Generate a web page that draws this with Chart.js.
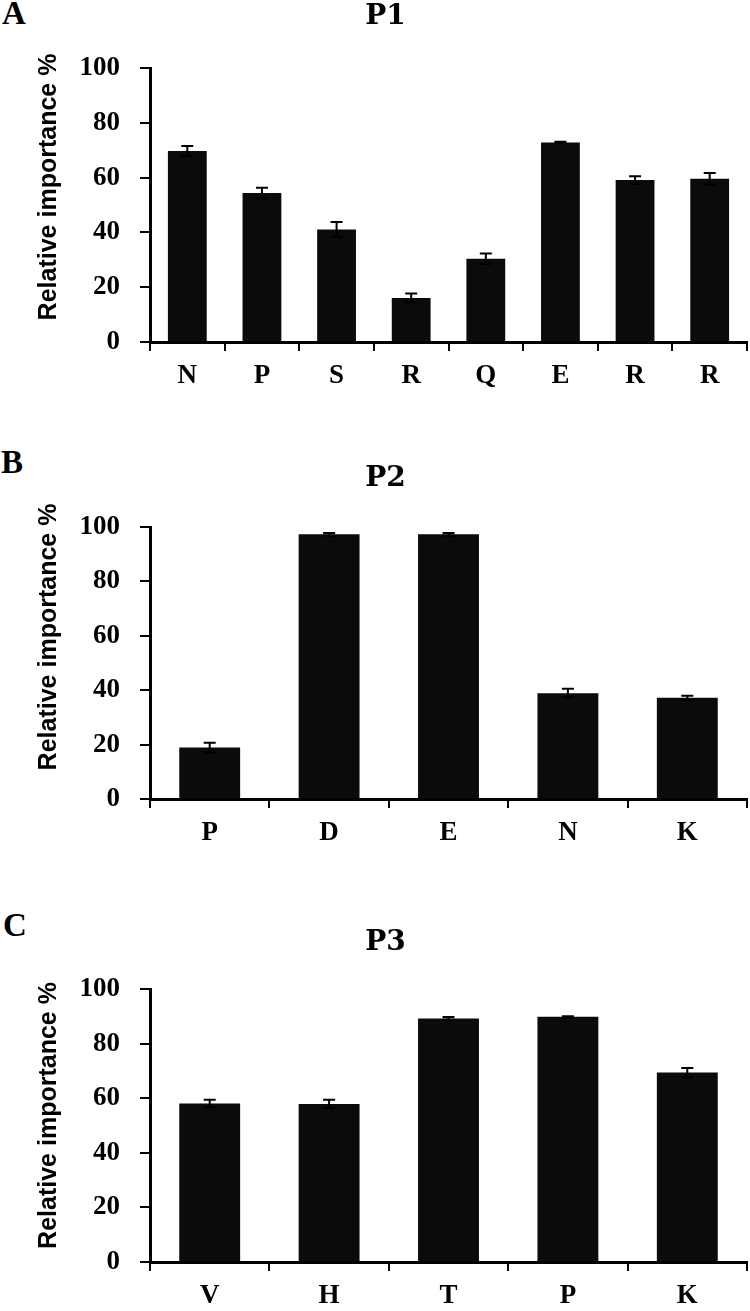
<!DOCTYPE html>
<html>
<head>
<meta charset="utf-8">
<script src="https://cdn.jsdelivr.net/npm/chart.js@4.4.1/dist/chart.umd.min.js"></script>
<style>
  html, body { margin: 0; padding: 0; background: #fff; width: 750px; height: 1311px; overflow: hidden; }
  .panel { position: absolute; left: 0; }
  .letter { position: absolute; font-family: "Liberation Serif", serif; font-weight: bold; font-size: 33px; line-height: 33px; color: #000; }
</style>
</head>
<body>
<div class="letter" style="left:2px; top:-3px;">A</div>
<div class="letter" style="left:1px; top:446px;">B</div>
<div class="letter" style="left:3px; top:909px;">C</div>
<canvas id="c1" class="panel" style="top:0px;" width="750" height="391"></canvas>
<canvas id="c2" class="panel" style="top:460px;" width="750" height="388"></canvas>
<canvas id="c3" class="panel" style="top:924px;" width="750" height="387"></canvas>
<script>
// ---- data ----
const p1Labels = ['N', 'P', 'S', 'R', 'Q', 'E', 'R', 'R'];
const p1Values = [69.7, 54.4, 41.1, 16.1, 30.4, 72.8, 59.1, 59.6];
const p1Errors = [1.8, 1.9, 2.7, 1.6, 1.9, 0.3, 1.4, 2.1];

const p2Labels = ['P', 'D', 'E', 'N', 'K'];
const p2Values = [18.9, 97.3, 97.3, 38.9, 37.2];
const p2Errors = [1.8, 0.5, 0.5, 1.6, 0.8];

const p3Labels = ['V', 'H', 'T', 'P', 'K'];
const p3Values = [58.1, 57.9, 89.2, 89.8, 69.4];
const p3Errors = [1.3, 1.5, 0.5, 0.2, 1.7];

const yTicks = [0, 20, 40, 60, 80, 100];
const yAxisTitle = 'Relative importance %';

// ---- plugins ----
const errorBars = {
  id: 'errorBars',
  afterDatasetsDraw(chart) {
    const ctx = chart.ctx;
    const ys = chart.scales.y;
    chart.data.datasets.forEach((ds, di) => {
      const meta = chart.getDatasetMeta(di);
      if (!ds.errors) return;
      ctx.save();
      ctx.strokeStyle = '#000';
      ctx.lineWidth = 2;
      meta.data.forEach((bar, i) => {
        const v = ds.data[i], e = ds.errors[i];
        const x = bar.x;
        const yt = ys.getPixelForValue(v + e);
        const yb = ys.getPixelForValue(v - e);
        const half = 6;
        ctx.beginPath();
        ctx.moveTo(x, yt); ctx.lineTo(x, yb);
        ctx.moveTo(x - half, yt); ctx.lineTo(x + half, yt);
        ctx.moveTo(x - half, yb); ctx.lineTo(x + half, yb);
        ctx.stroke();
      });
      ctx.restore();
    });
  }
};

const yTitlePlugin = {
  id: 'yTitle',
  afterDraw(chart, args, opts) {
    const { ctx, chartArea } = chart;
    ctx.save();
    ctx.translate(opts.x, (chartArea.top + chartArea.bottom) / 2 + opts.dy);
    ctx.rotate(-Math.PI / 2);
    ctx.font = 'bold 25px "Liberation Sans", Arial, sans-serif';
    ctx.fillStyle = '#000';
    ctx.textAlign = 'center';
    ctx.textBaseline = 'middle';
    ctx.fillText(opts.text, 0, 0);
    ctx.restore();
  }
};

const tickFont = { family: 'Liberation Serif', weight: 'bold', size: 27, lineHeight: 1.2 };

function makeChart(id, labels, values, errors, cfg) {
  return new Chart(document.getElementById(id), {
    type: 'bar',
    data: {
      labels: labels,
      datasets: [{
        data: values,
        errors: errors,
        backgroundColor: '#0b0b0b',
        borderWidth: 0,
        barPercentage: cfg.barPct,
        categoryPercentage: 1
      }]
    },
    options: {
      responsive: false,
      animation: false,
      devicePixelRatio: 1,
      layout: { padding: { left: 24, right: 3, top: cfg.padTop, bottom: 0 } },
      plugins: {
        legend: { display: false },
        tooltip: { enabled: false },
        title: {
          display: true,
          text: cfg.title,
          color: '#000',
          font: { family: 'DejaVu Serif', weight: 'bold', size: 28, lineHeight: 1.2 },
          padding: { top: 0, bottom: cfg.titleBottom }
        },
        yTitle: { text: yAxisTitle, x: 49, dy: cfg.titleDy }
      },
      scales: {
        x: {
          grid: { display: true, drawOnChartArea: false, drawTicks: true, tickLength: 9, color: '#000', lineWidth: 2, offset: true },
          border: { display: true, color: '#000', width: 3 },
          ticks: { color: '#000', font: tickFont, padding: 9 },
          afterFit: s => { s.height = 49; }
        },
        y: {
          min: 0,
          max: 100,
          afterBuildTicks: s => { s.ticks = yTicks.map(v => ({ value: v })); },
          ticks: { color: '#000', font: tickFont, padding: 20 },
          grid: { display: true, drawOnChartArea: false, drawTicks: true, tickLength: 10, color: '#000', lineWidth: 2 },
          border: { display: true, color: '#000', width: 3 },
          afterFit: s => { s.width = 126; }
        }
      }
    },
    plugins: [errorBars, yTitlePlugin]
  });
}

makeChart('c1', p1Labels, p1Values, p1Errors, { title: 'P1', barPct: 0.52, padTop: 0, titleBottom: 34.4, titleDy: -18 });
makeChart('c2', p2Labels, p2Values, p2Errors, { title: 'P2', barPct: 0.51, padTop: 2, titleBottom: 31.4, titleDy: -26 });
makeChart('c3', p3Labels, p3Values, p3Errors, { title: 'P3', barPct: 0.51, padTop: 2, titleBottom: 29.4, titleDy: -10 });
</script>
</body>
</html>
